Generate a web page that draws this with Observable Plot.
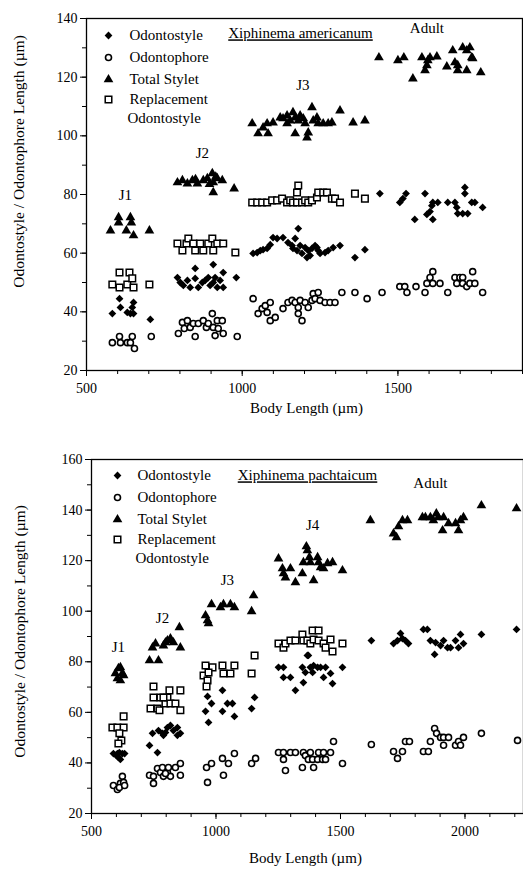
<!DOCTYPE html>
<html><head><meta charset="utf-8">
<script src="https://cdn.jsdelivr.net/npm/d3@7"></script>
<script src="https://cdn.jsdelivr.net/npm/@observablehq/plot@0.6"></script>
<style>
body{margin:0;background:#fff;}
#chart{width:523px;}
svg{display:block;}
</style></head><body><div id="chart"></div>
<script>
// ---------------- X. americanum (top panel) ----------------
const amerTitle = "Xiphinema americanum";
const amerXTicks = [500, 1000, 1500];
const amerXMinor = [500,600,700,800,900,1000,1100,1200,1300,1400,1500,1600,1700,1800,1900];
const amerYTicks = [20, 40, 60, 80, 100, 120, 140];
const amerYMinor = [20,30,40,50,60,70,80,90,100,110,120,130,140];
const amerStages = [
  {label: "J1", x: 625, y: 79.7},
  {label: "J2", x: 872, y: 94},
  {label: "J3", x: 1195, y: 117.2},
  {label: "Adult", x: 1593, y: 136.6}
];
const amerOdontostyle = [
  [583,39.4],[606,44.5],[609,41.5],[631,39.8],[641,39.4],[647,41.5],[651,43.2],[651,39.4],[705,37.4],
  [792,51.7],[801,50],[811,49],[824,50.7],[833,48.3],[849,54.8],[849,51.4],[859,48.3],[872,50],[881,50.7],[891,51.7],[897,49],[907,56.1],[907,50],[913,51.7],[920,48.3],[929,50.7],[939,53.4],[939,48.3],[981,51.7],
  [1035,59.9],[1048,60.2],[1058,60.9],[1067,61.2],[1080,61.6],[1090,62.9],[1099,65.3],[1112,65],[1131,65.3],[1147,63.6],[1160,62.6],[1163,61.6],[1170,65],[1180,68.4],[1176,60.9],[1186,62.6],[1192,59.9],[1202,61.9],[1208,58.5],[1212,60.9],[1218,59.2],[1224,61.6],[1234,62.6],[1240,61.9],[1244,60.9],[1250,59.9],[1266,60.2],[1276,60.9],[1292,61.9],[1314,62.6],[1362,58.5],[1394,61.2],
  [1442,80.3],[1506,77.3],[1516,78.6],[1526,80.3],[1554,71.5],[1587,80.3],[1593,73.2],[1603,74.2],[1609,76.2],[1612,71.5],[1612,77.3],[1628,77.3],[1660,77.3],[1683,77.3],[1689,75.6],[1692,73.5],[1708,73.5],[1715,82.4],[1715,80.3],[1724,73.5],[1737,77.3],[1747,77.3],[1772,75.6]
];
const amerOdontophore = [
  [583,29.5],[606,31.6],[609,29.5],[631,29.5],[647,31.6],[641,29.5],[654,27.5],[708,31.6],
  [795,32.6],[808,36.4],[814,34.3],[824,37],[833,34.7],[843,36],[849,31.6],[859,36],[875,37],[885,34.7],[891,36],[904,39.4],[907,34.7],[913,31.9],[920,37],[923,34.3],[936,37],[939,32.6],[984,31.6],
  [1035,44.5],[1051,39.4],[1064,41.1],[1074,42.1],[1080,39.8],[1090,43.2],[1090,37],[1106,38.1],[1131,41.1],[1147,43.2],[1160,43.9],[1170,43.2],[1180,41.5],[1180,39.4],[1186,43.9],[1192,37],[1202,43.2],[1212,41.5],[1224,43.9],[1228,46.2],[1234,44.5],[1244,46.6],[1250,43.9],[1266,43.2],[1282,43.2],[1298,43.2],[1320,46.6],[1362,46.6],[1401,44.5],
  [1449,46.6],[1506,48.6],[1522,48.6],[1529,46.6],[1558,48.6],[1587,46.6],[1593,49.7],[1603,51.7],[1612,53.7],[1612,49.7],[1635,49.7],[1660,46.6],[1683,51.7],[1689,49.7],[1699,51.7],[1708,51.7],[1708,49.7],[1721,48.6],[1731,49.7],[1740,53.7],[1747,49.7],[1772,46.6]
];
const amerTotalStylet = [
  [577,67.7],[603,72.2],[603,70.4],[628,67.7],[641,72.2],[644,70.4],[651,66],[702,67.7],
  [792,84.1],[808,84.8],[824,83.7],[840,84.8],[850,85.2],[856,83.7],[875,84.8],[888,85.5],[895,83.5],[904,87.2],[907,84.1],[915,86],[920,85.5],[936,84.8],[907,80.7],[974,82],
  [1032,104.2],[1051,100.8],[1067,102.8],[1080,104.2],[1083,100.8],[1099,104.5],[1122,106.2],[1131,105.9],[1144,106.9],[1144,104.2],[1154,105.2],[1163,108],[1170,106.2],[1170,100.8],[1180,105.2],[1186,106.9],[1196,105.9],[1202,104.2],[1208,99.4],[1212,101.1],[1224,109.7],[1228,105.2],[1240,106.2],[1244,104.2],[1260,104.2],[1276,104.2],[1288,104.5],[1314,108.6],[1356,104.5],[1394,105.2],
  [1439,126.7],[1500,125.7],[1519,126.7],[1548,119.5],[1577,126.7],[1587,122.3],[1593,124],[1596,125.7],[1603,126.7],[1625,127],[1657,123.6],[1676,129.1],[1683,125],[1692,124],[1692,122.3],[1708,130.1],[1721,129.1],[1721,122.3],[1731,130.1],[1737,126.7],[1740,126.4],[1766,121.6]
];
const amerReplacement = [
  [583,49.3],[606,53.4],[606,48.3],[638,53.4],[631,49.3],[647,51.4],[651,48.3],[702,49.3],
  [792,63.3],[808,60.9],[821,63.3],[827,65],[843,63.3],[849,60.9],[865,63.3],[875,60.9],[891,63.3],[904,65],[907,60.9],[920,63.3],[939,63.3],[978,60.2],
  [1032,77.3],[1048,77.3],[1064,77.3],[1080,77.3],[1096,78],[1112,78],[1128,78.6],[1144,77.3],[1154,78],[1163,77.3],[1176,80.7],[1176,77.3],[1180,83.1],[1192,77.3],[1202,78],[1212,77.3],[1224,78],[1240,79],[1244,80.7],[1260,80.7],[1272,80.7],[1288,78.6],[1298,78.6],[1314,77.3],[1362,80.3],[1394,78.6]
];

// ---------------- X. pachtaicum (bottom panel) ----------------
const pachTitle = "Xiphinema pachtaicum";
const pachXTicks = [500, 1000, 1500, 2000];
const pachXMinor = [500,600,700,800,900,1000,1100,1200,1300,1400,1500,1600,1700,1800,1900,2000,2100,2200];
const pachYTicks = [20, 40, 60, 80, 100, 120, 140, 160];
const pachYMinor = [20,30,40,50,60,70,80,90,100,110,120,130,140,150,160];
const pachStages = [
  {label: "J1", x: 608, y: 85.7},
  {label: "J2", x: 785, y: 97.1},
  {label: "J3", x: 1046, y: 112.2},
  {label: "J4", x: 1388, y: 133.9},
  {label: "Adult", x: 1861, y: 150.5}
];
const pachOdontostyle = [
  [588,43.7],[604,43.7],[612,44.1],[624,43.7],[633,43.7],[608,42.2],[616,41.4],[600,42.9],
  [733,46.9],[745,51.7],[765,44.1],[769,52.8],[785,51.7],[797,52],[805,54],[817,54.8],[829,52.8],[845,54],[857,51.7],[845,50.9],[789,50.9],
  [966,66.3],[958,60.4],[982,63.5],[970,56],[1026,68.7],[1026,60.4],[1046,63.5],[1066,63.5],[1074,58.4],[1143,61.5],[1155,65.9],
  [1251,77.8],[1271,77.8],[1271,73.8],[1299,73.8],[1319,68.7],[1347,77.8],[1351,71.8],[1359,75.8],[1367,82.5],[1371,82.5],[1379,77.8],[1388,75.8],[1392,78.5],[1408,77.8],[1420,77.8],[1432,73.8],[1440,77.8],[1460,75.4],[1468,71.4],[1508,77.8],
  [1624,88.4],[1713,87.2],[1729,88.4],[1741,91.2],[1749,89.2],[1761,88.4],[1773,87.2],[1833,92.8],[1849,92.8],[1861,88.4],[1878,82.9],[1882,87.6],[1902,86.4],[1914,88.4],[1930,85.6],[1942,85.6],[1962,88.4],[1974,85.6],[1982,90.8],[1994,87.2],[2066,90.8],[2207,92.8]
];
const pachOdontophore = [
  [588,31.1],[604,29.5],[616,31.9],[624,34.7],[629,32.3],[612,30.3],[633,31.1],
  [733,35.1],[749,31.9],[749,34.7],[765,37.8],[777,36.2],[785,38.2],[789,34.7],[805,36.2],[809,38.2],[817,34.7],[837,38.2],[857,39.8],[857,35.1],[797,35.8],
  [962,38.2],[966,32.3],[982,39.8],[1026,41.8],[1030,35.1],[1050,39.8],[1074,43.7],[1143,39.8],[1159,41.8],
  [1251,44.1],[1271,44.1],[1271,41.4],[1279,37],[1299,44.1],[1319,44.1],[1347,38.2],[1351,44.1],[1359,42.9],[1371,41.4],[1379,44.1],[1388,41.4],[1392,38.2],[1408,41.4],[1412,44.1],[1428,41.4],[1432,44.1],[1440,41.4],[1460,44.1],[1472,48.5],[1508,39.8],
  [1624,47.3],[1713,44.5],[1729,41.8],[1749,44.5],[1761,48.5],[1777,48.5],[1833,44.5],[1853,44.5],[1861,48.5],[1878,53.6],[1886,51.7],[1902,50.1],[1914,47],[1914,50.1],[1934,50.1],[1962,47],[1974,48.5],[1982,47],[1994,50.1],[2066,51.7],[2211,48.9]
];
const pachTotalStylet = [
  [596,75.4],[608,77.4],[616,77.8],[624,75.4],[604,73.4],[616,72.6],[629,74.6],
  [733,80.5],[769,80.5],[745,85.6],[757,87.2],[789,86.4],[797,87.6],[817,89.2],[829,87.6],[857,85.6],[853,93.6],[805,88.4],
  [958,98.3],[966,96.3],[970,95.2],[982,102.7],[1018,101.5],[1030,102.7],[1058,102.7],[1074,101.5],[1143,99.9],[1151,106.2],
  [1251,120.8],[1267,116.9],[1271,114.9],[1279,113.3],[1299,116.9],[1319,111.4],[1347,114.9],[1351,119.3],[1363,125.6],[1367,124],[1375,121.3],[1379,119.3],[1392,112.2],[1408,121.3],[1412,119.3],[1420,117.3],[1432,116.9],[1448,118.9],[1468,119.3],[1508,116.1],
  [1620,135.9],[1713,130.7],[1725,129.2],[1733,133.5],[1749,135.9],[1769,135.9],[1829,137.1],[1841,137.1],[1861,137.1],[1873,135.9],[1885,138.6],[1893,137.1],[1910,131.9],[1914,137.1],[1934,134.7],[1962,134.7],[1974,131.9],[1982,135.9],[1994,137.1],[2066,141.8],[2207,140.6]
];
const pachReplacement = [
  [584,54],[604,54],[629,54],[629,58.4],[612,51.7],[620,48.9],[608,47.7],
  [737,61.5],[749,70.2],[749,65.9],[765,61.5],[773,60.8],[777,65.9],[797,63.5],[805,65.9],[813,68.7],[817,63.5],[837,63.5],[857,68.7],[857,60.8],[789,65.9],
  [958,78.5],[950,74.6],[966,72.6],[962,70.2],[986,77.8],[1026,78.5],[1030,75.4],[1058,75.4],[1074,78.5],[1143,75.4],[1155,82.5],[970,75.8],
  [1251,87.2],[1271,85.6],[1279,87.2],[1299,88.4],[1319,88.4],[1347,90.8],[1351,88.4],[1367,88.4],[1379,87.2],[1388,92.4],[1392,88.8],[1412,92.4],[1412,88.4],[1432,87.2],[1440,85.6],[1460,88.8],[1468,84.1],[1508,87.2]
];

const legendLabels = ["Odontostyle", "Odontophore", "Total Stylet", "Replacement"];
const legendSecondLine = "Odontostyle";
const xLabel = "Body Length (µm)";
const yLabel = "Odontostyle / Odontophore Length (µm)";

// ---------------- styles ----------------
const FONT = "'Liberation Serif', 'Times New Roman', serif";
const styles = [
  {symbol: "diamond2", fill: "black", stroke: "none", strokeWidth: 0, r: 3.5},
  {symbol: "circle", fill: "white", stroke: "black", strokeWidth: 1.6, r: 3},
  {symbol: "triangle", fill: "black", stroke: "none", strokeWidth: 0, r: 3.6},
  {symbol: "square", fill: "white", stroke: "black", strokeWidth: 1.5, r: 3.7}
];

function makePanel(cfg) {
  const seriesData = [cfg.odontostyle, cfg.odontophore, cfg.total, cfg.replacement];
  const marks = [
    Plot.axisY({ticks: cfg.yMinor, tickSize: 4, tickFormat: () => "", label: null}),
    Plot.axisY({ticks: cfg.yTicks, tickSize: 6, tickPadding: 3, tickFormat: d => String(d), label: null}),
    Plot.axisX({ticks: cfg.xMinor, tickSize: 4, tickFormat: () => "", label: null}),
    Plot.axisX({ticks: cfg.xTicks, tickSize: 6, tickPadding: 7, tickFormat: d => String(d), label: null}),
    Plot.frame({stroke: "black", strokeWidth: 1.3})
  ];
  [1, 3, 0, 2].forEach(k => {
    const s = styles[k];
    marks.push(Plot.dot(seriesData[k], {x: d => d[0], y: d => d[1], symbol: s.symbol, r: s.r,
      fill: s.fill, stroke: s.stroke, strokeWidth: s.strokeWidth}));
  });
  marks.push(Plot.text(cfg.stages, {x: "x", y: "y", text: "label", fontSize: 15}));
  marks.push(Plot.text([cfg.title], {frameAnchor: "top", dx: cfg.titleDx, dy: cfg.titleDy, fontSize: 15,
    textAnchor: "middle", lineAnchor: "middle"}));
  legendLabels.forEach((lab, i) => {
    const s = styles[i];
    const dy = cfg.legendRows[i];
    marks.push(Plot.dot([0], {frameAnchor: "top-left", dx: cfg.legendMarkDx, dy, symbol: s.symbol, r: s.r,
      fill: s.fill, stroke: s.stroke, strokeWidth: s.strokeWidth}));
    marks.push(Plot.text([lab], {frameAnchor: "top-left", dx: cfg.legendTextDx, dy, fontSize: 15,
      textAnchor: "start", lineAnchor: "middle"}));
  });
  marks.push(Plot.text([legendSecondLine], {frameAnchor: "top-left", dx: cfg.legendTextDx2, dy: cfg.legendRows[4],
    fontSize: 15, textAnchor: "start", lineAnchor: "middle"}));
  marks.push(Plot.text([xLabel], {frameAnchor: "bottom", dx: cfg.xLabelDx, dy: cfg.xLabelDy, fontSize: 15,
    textAnchor: "middle", lineAnchor: "middle"}));
  marks.push(Plot.text([yLabel], {frameAnchor: "left", dx: cfg.yLabelDx, dy: cfg.yLabelDy, fontSize: 15.5,
    rotate: -90, textAnchor: "middle", lineAnchor: "middle"}));

  const svg = Plot.plot({
    width: 523, height: cfg.height,
    marginTop: cfg.mt, marginBottom: cfg.mb, marginLeft: cfg.ml, marginRight: cfg.mr,
    x: {domain: cfg.xDomain},
    y: {domain: cfg.yDomain},
    style: {fontFamily: FONT, fontSize: "14px", color: "black", background: "white", overflow: "visible"},
    marks
  });
  svg.querySelectorAll("text").forEach(t => {
    if (t.textContent === cfg.title) t.setAttribute("text-decoration", "underline");
  });
  return svg;
}

const topPanel = makePanel({
  title: amerTitle, stages: amerStages,
  odontostyle: amerOdontostyle, odontophore: amerOdontophore, total: amerTotalStylet, replacement: amerReplacement,
  xTicks: amerXTicks, xMinor: amerXMinor, yTicks: amerYTicks, yMinor: amerYMinor,
  xDomain: [500, 1900], yDomain: [20, 140],
  height: 430, mt: 18, mb: 60, ml: 86, mr: 1,
  titleDx: -4, titleDy: 15,
  legendRows: [17, 39, 61, 81, 100], legendMarkDx: 22, legendTextDx: 43, legendTextDx2: 41,
  xLabelDx: 2, xLabelDy: 38, yLabelDx: -67, yLabelDy: -33
});
const bottomPanel = makePanel({
  title: pachTitle, stages: pachStages,
  odontostyle: pachOdontostyle, odontophore: pachOdontophore, total: pachTotalStylet, replacement: pachReplacement,
  xTicks: pachXTicks, xMinor: pachXMinor, yTicks: pachYTicks, yMinor: pachYMinor,
  xDomain: [500, 2235], yDomain: [20, 160],
  height: 441, mt: 29, mb: 58, ml: 91, mr: 0,
  titleDx: 0, titleDy: 16,
  legendRows: [16, 38, 60, 80, 99], legendMarkDx: 26, legendTextDx: 46, legendTextDx2: 44,
  xLabelDx: -2, xLabelDy: 45, yLabelDx: -71, yLabelDy: -5
});
document.getElementById("chart").append(topPanel, bottomPanel);
</script></body></html>
